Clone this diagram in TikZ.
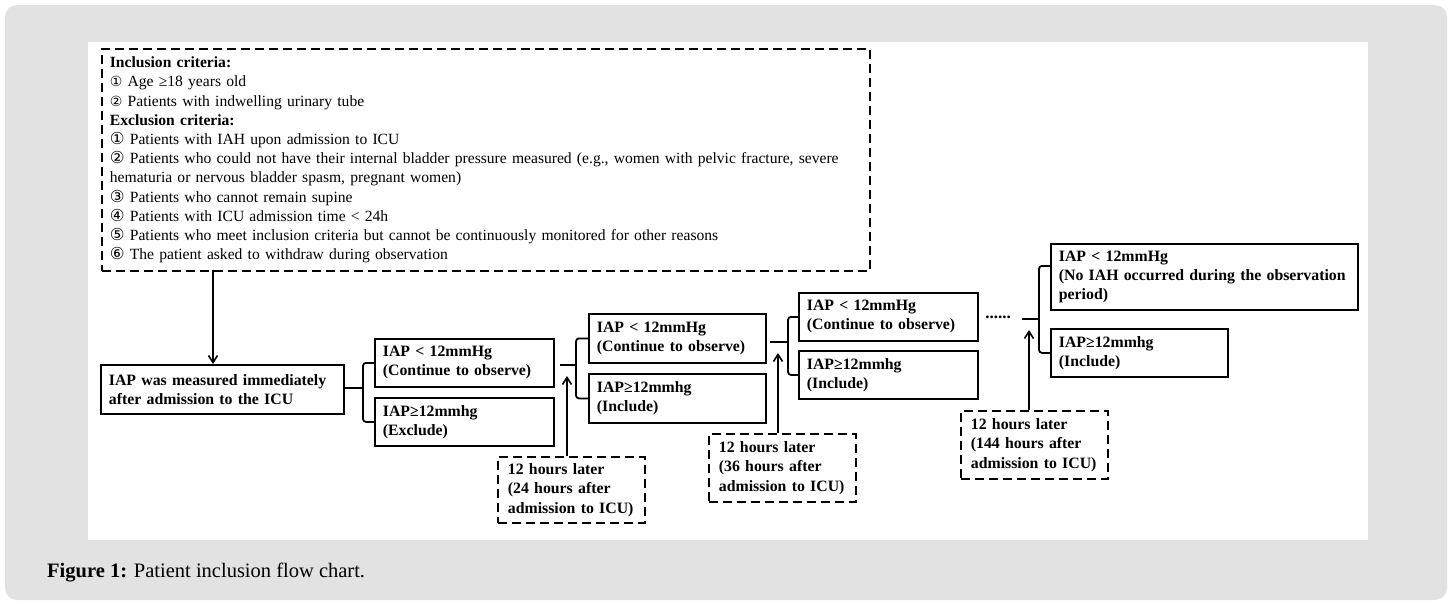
\documentclass[tikz,border=0pt]{standalone}
\usepackage{fontspec}
\setmainfont{Liberation Serif}
\newfontfamily\symfont{DejaVu Sans}
\usetikzlibrary{arrows.meta}
\definecolor{panelgrey}{HTML}{E2E2E2}
\newcommand{\cn}[1]{{\symfont\fontsize{14}{14}\selectfont #1}}
\newcommand{\cnb}[1]{{\symfont\fontsize{16.5}{14}\selectfont #1}}
\begin{document}
\begin{tikzpicture}[x=1pt,y=-1pt,
  solidbox/.style={draw, line width=1.8pt, inner xsep=8pt, inner ysep=4pt, anchor=north west, align=left, font=\fontsize{15.8}{19}\selectfont\bfseries},
  dashbox/.style={draw, line width=1.8pt, dash pattern=on 9pt off 5pt, inner xsep=10pt, inner ysep=4pt, anchor=north west, align=left, font=\fontsize{15.8}{19.5}\selectfont\bfseries},
  conn/.style={line width=1.8pt},
  brk/.style={line width=1.8pt, rounded corners=3pt},
  arr/.style={line width=1.8pt, -{Straight Barb[length=7pt,width=9pt,line width=1.6pt]}}
  ]
\useasboundingbox (0,0) rectangle (1452,603);
\fill[white] (0,0) rectangle (1452,603);
\fill[panelgrey, rounded corners=12pt] (5,5) rectangle (1447,600);
\fill[white] (88,42) rectangle (1368,540);

% criteria box
\node[draw, line width=1.8pt, dash pattern=on 9pt off 5pt, anchor=north west,
  minimum width=768pt, minimum height=222pt, text width=752pt, inner xsep=8pt, inner ysep=4pt,
  align=left, font=\fontsize{15.6}{19.2}\selectfont] (crit) at (101,48) {%
  \textbf{Inclusion criteria:}\\
  \cn{①} Age ≥18 years old\\
  \cn{②} Patients with indwelling urinary tube\\
  \textbf{Exclusion criteria:}\\
  \cnb{①} Patients with IAH upon admission to ICU\\
  \cnb{②} Patients who could not have their internal bladder pressure measured (e.g., women with pelvic fracture, severe\\
  hematuria or nervous bladder spasm, pregnant women)\\
  \cnb{③} Patients who cannot remain supine\\
  \cnb{④} Patients with ICU admission time < 24h\\
  \cnb{⑤} Patients who meet inclusion criteria but cannot be continuously monitored for other reasons\\
  \cnb{⑥} The patient asked to withdraw during observation};

% main box
\node[solidbox, minimum width=243pt, minimum height=49pt, text width=227pt] (m) at (100,364) {IAP was measured immediately\\after admission to the ICU};
\coordinate (c0) at (213,270);
\draw[arr] (c0) -- (c0 |- m.north);

% stage 1
\node[solidbox, minimum width=179pt, minimum height=48pt, text width=163pt] (a1) at (374,338) {IAP < 12mmHg\\(Continue to observe)};
\node[solidbox, minimum width=179pt, minimum height=48pt, text width=163pt] (a2) at (374,397) {IAP≥12mmhg\\(Exclude)};
\coordinate (j1) at (363,388);
\draw[conn] (m.east |- j1) -- (j1);
\draw[brk] (a1.west) -| (j1) |- (a2.west);

% stage 2
\node[solidbox, minimum width=177pt, minimum height=49pt, text width=161pt] (b1) at (588,313) {IAP < 12mmHg\\(Continue to observe)};
\node[solidbox, minimum width=177pt, minimum height=49pt, text width=161pt] (b2) at (588,373) {IAP≥12mmhg\\(Include)};
\coordinate (s2) at (560,365);
\coordinate (j2) at (576,365);
\draw[conn] (s2) -- (j2);
\draw[brk] (b1.west) -| (j2) |- (b2.west);
\node[dashbox, minimum width=147pt, minimum height=66pt, text width=127pt] (t1) at (497,456) {12 hours later\\(24 hours after\\admission to ICU)};
\coordinate (u1) at (567,376);
\draw[arr] (t1.north -| u1) -- (u1);

% stage 3
\node[solidbox, minimum width=179pt, minimum height=48pt, text width=163pt] (c1) at (798,292) {IAP < 12mmHg\\(Continue to observe)};
\node[solidbox, minimum width=179pt, minimum height=48pt, text width=163pt] (c2) at (798,350) {IAP≥12mmhg\\(Include)};
\coordinate (s3) at (770,342);
\coordinate (j3) at (788,342);
\draw[conn] (s3) -- (j3);
\draw[brk] (c1.west) -| (j3) |- (c2.west);
\node[dashbox, minimum width=147pt, minimum height=68pt, text width=127pt] (t2) at (708,433) {12 hours later\\(36 hours after\\admission to ICU)};
\coordinate (u2) at (778,353);
\draw[arr] (t2.north -| u2) -- (u2);

% dots
\node[font=\fontsize{17}{17}\selectfont\bfseries, inner sep=0pt] (dots) at (998,317) {......};

% stage 4
\node[solidbox, minimum width=307pt, minimum height=66pt, text width=291pt] (d1) at (1050,243) {IAP < 12mmHg\\(No IAH occurred during the observation\\period)};
\node[solidbox, minimum width=177pt, minimum height=48pt, text width=161pt] (d2) at (1050,328) {IAP≥12mmhg\\(Include)};
\coordinate (s4) at (1022,319);
\coordinate (j4) at (1039,319);
\draw[conn] (s4) -- (j4);
\draw[brk] ([yshift=11pt]d1.west) -| (j4) |- (d2.west);
\node[dashbox, minimum width=147pt, minimum height=68pt, text width=127pt] (t3) at (960,410) {12 hours later\\(144 hours after\\admission to ICU)};
\coordinate (u3) at (1029,330);
\draw[arr] (t3.north -| u3) -- (u3);

% caption
\node[anchor=base west, inner sep=0pt, font=\fontsize{20.5}{22}\selectfont] (cap) at (47,577) {\textbf{Figure 1:} Patient inclusion flow chart.};
\end{tikzpicture}
\end{document}
